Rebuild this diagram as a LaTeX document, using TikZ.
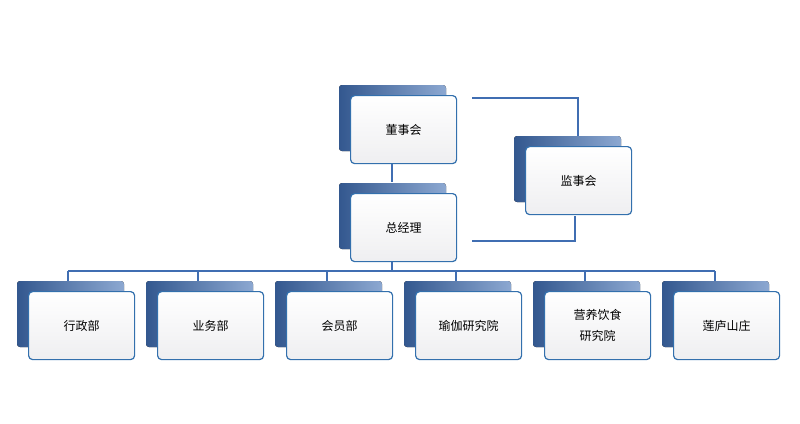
\documentclass[tikz,border=0pt]{standalone}
\usepackage{fontspec}
\newfontfamily\cjk{Noto Sans CJK SC}
\begin{document}
\begin{tikzpicture}[x=1pt,y=-1pt,
 back/.style={draw=blue!45!black!70!cyan, line width=0.8pt, rounded corners=3pt, top color=blue!50!cyan!70!black!60, bottom color=blue!60!black!65},
 front/.style={draw=blue!50!cyan!60!black!80, line width=1.2pt, rounded corners=4pt, top color=white, bottom color=blue!7!gray!12, font=\cjk\fontsize{12}{15}\selectfont, align=center, minimum width=106pt, minimum height=68pt, inner sep=0pt},
 conn/.style={draw=blue!60!cyan!60!black!75, line width=1.6pt}]
\useasboundingbox (0,0) rectangle (800,423);
\colorlet{bk}{blue!60!cyan!60!black!75}
\newcommand\orgbox[4]{% name, x front left, y front top, text
 \fill[rounded corners=3pt, left color=bk!80!black, right color=bk!60] (#2-11,#3-10) rectangle ++(107,66);
 \node[front, anchor=north west] (#1) at (#2,#3) {#4};}
\orgbox{dsh}{350}{95}{董事会}
\orgbox{zjl}{350}{193}{总经理}
\orgbox{jsh}{525}{146}{监事会}
\orgbox{a}{28}{291}{行政部}
\orgbox{b}{157}{291}{业务部}
\orgbox{c}{286}{291}{会员部}
\orgbox{d}{415}{291}{瑜伽研究院}
\orgbox{e}{544}{291}{营养饮食\\[6pt]研究院}
\orgbox{f}{673}{291}{莲庐山庄}
\coordinate (t1) at (472,98);
\coordinate (t2) at (472,241);
\draw[conn] (t1) -- (578,98) -- (578,136);
\draw[conn] (t2) -- (575,241) -- (575,216);
\draw[conn] (dsh.south -| 392,0) -- (392,182);
\draw[conn] (392,262) -- (392,271);
\draw[conn] (68,271) -- (715,271);
\foreach \x in {68,198,327,456,585,715}{\draw[conn] (\x,271) -- (\x,281);}
\end{tikzpicture}
\end{document}
